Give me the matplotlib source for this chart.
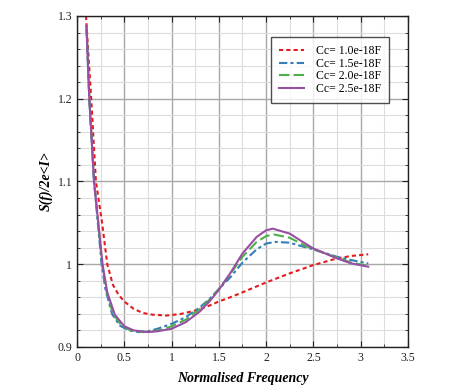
import numpy as np
import matplotlib.pyplot as plt
from matplotlib.ticker import MultipleLocator

plt.rcParams['font.family'] = ['Liberation Serif', 'DejaVu Serif']

# Cc = 1.0e-18F
x_10 = [0.095, 0.15, 0.20, 0.265, 0.32, 0.38, 0.44, 0.50, 0.60, 0.70, 0.80, 0.95,
        1.10, 1.25, 1.40, 1.50, 1.62, 1.75, 2.00, 2.25, 2.50, 2.75, 2.90, 3.08]
y_10 = [1.300, 1.200, 1.100, 1.050, 1.000, 0.975, 0.963, 0.955, 0.946, 0.941, 0.939, 0.938,
        0.940, 0.944, 0.950, 0.955, 0.960, 0.966, 0.978, 0.989, 0.999, 1.007, 1.010, 1.012]

# Cc = 1.5e-18F
x_15 = [0.10, 0.13, 0.18, 0.22, 0.26, 0.30, 0.37, 0.45, 0.55, 0.65, 0.75, 0.85, 1.00,
        1.15, 1.30, 1.40, 1.50, 1.62, 1.75, 1.90, 2.00, 2.10, 2.25, 2.40, 2.50, 2.75, 2.90, 3.08]
y_15 = [1.285, 1.200, 1.100, 1.050, 1.000, 0.970, 0.940, 0.926, 0.920, 0.918, 0.919, 0.922, 0.928,
        0.936, 0.948, 0.958, 0.970, 0.984, 1.002, 1.018, 1.025, 1.027, 1.026, 1.021, 1.018, 1.009, 1.005, 1.001]

# Cc = 2.0e-18F
x_20 = [0.10, 0.13, 0.18, 0.225, 0.265, 0.31, 0.38, 0.47, 0.57, 0.70, 0.80, 0.90, 1.00,
        1.15, 1.30, 1.40, 1.50, 1.62, 1.75, 1.90, 2.00, 2.08, 2.25, 2.40, 2.50, 2.75, 2.90, 3.08]
y_20 = [1.287, 1.200, 1.100, 1.050, 1.000, 0.968, 0.940, 0.926, 0.920, 0.918, 0.919, 0.921, 0.925,
        0.933, 0.946, 0.957, 0.970, 0.988, 1.009, 1.027, 1.034, 1.036, 1.032, 1.023, 1.018, 1.008, 1.002, 0.998]

# Cc = 2.5e-18F
x_25 = [0.10, 0.13, 0.18, 0.225, 0.27, 0.32, 0.40, 0.50, 0.60, 0.75, 0.85, 1.00,
        1.15, 1.30, 1.40, 1.50, 1.62, 1.75, 1.90, 2.00, 2.07, 2.25, 2.40, 2.50, 2.75, 2.90, 3.08]
y_25 = [1.288, 1.200, 1.100, 1.050, 1.000, 0.966, 0.939, 0.925, 0.920, 0.918, 0.919, 0.922,
        0.930, 0.943, 0.955, 0.969, 0.989, 1.013, 1.033, 1.041, 1.043, 1.037, 1.026, 1.019, 1.007, 1.001, 0.997]

labels = ['Cc= 1.0e-18F', 'Cc= 1.5e-18F', 'Cc= 2.0e-18F', 'Cc= 2.5e-18F']

fig = plt.figure(figsize=(4.62, 3.89), dpi=100)
ax = fig.add_axes([0.1667, 0.108, 0.7163, 0.851])

ax.plot(x_10, y_10, color='#e41a1c', lw=1.5, ls=(0, (2, 1.5)), label=labels[0])
ax.plot(x_15, y_15, color='#377eb8', lw=1.5, ls=(0, (4, 1.5, 1.5, 1.5)), label=labels[1])
ax.plot(x_20, y_20, color='#4daf4a', lw=1.5, ls=(0, (5, 2)), label=labels[2])
ax.plot(x_25, y_25, color='#984ea3', lw=1.5, ls='-', label=labels[3])

ax.set_xlim(0, 3.5)
ax.set_ylim(0.9, 1.3)
ax.xaxis.set_major_locator(MultipleLocator(0.5))
ax.xaxis.set_minor_locator(MultipleLocator(0.25))
ax.yaxis.set_major_locator(MultipleLocator(0.1))
ax.yaxis.set_minor_locator(MultipleLocator(0.02))
ax.xaxis.set_major_formatter(plt.FuncFormatter(lambda v, p: f'{v:g}'))
ax.yaxis.set_major_formatter(plt.FuncFormatter(lambda v, p: f'{round(v, 2):g}'))

ax.grid(which='major', color='#a8a8a8', lw=1.0)
ax.grid(which='minor', color='#dcdcdc', lw=0.8)
ax.set_axisbelow(True)
ax.tick_params(which='both', direction='in', top=True, right=True, labelsize=8.5, colors='#222222')
ax.tick_params(which='major', length=4)
ax.tick_params(which='minor', length=2)
for s in ax.spines.values():
    s.set_color('#222222')
    s.set_linewidth(1.0)

ax.set_xlabel('Normalised Frequency', fontsize=10, fontweight='bold', fontstyle='italic', labelpad=6)
ax.set_ylabel('S(f)/2e<I>', fontsize=10, fontweight='bold', fontstyle='italic', labelpad=3)

leg = ax.legend(loc='upper right', bbox_to_anchor=(0.943, 0.937), fontsize=8.5, frameon=True,
                fancybox=False, edgecolor='#222222', handlelength=2.1, handletextpad=1.0,
                labelspacing=0.05, borderpad=0.7, borderaxespad=0)
leg.get_frame().set_linewidth(1.0)

fig.savefig('out.png', dpi=100)
